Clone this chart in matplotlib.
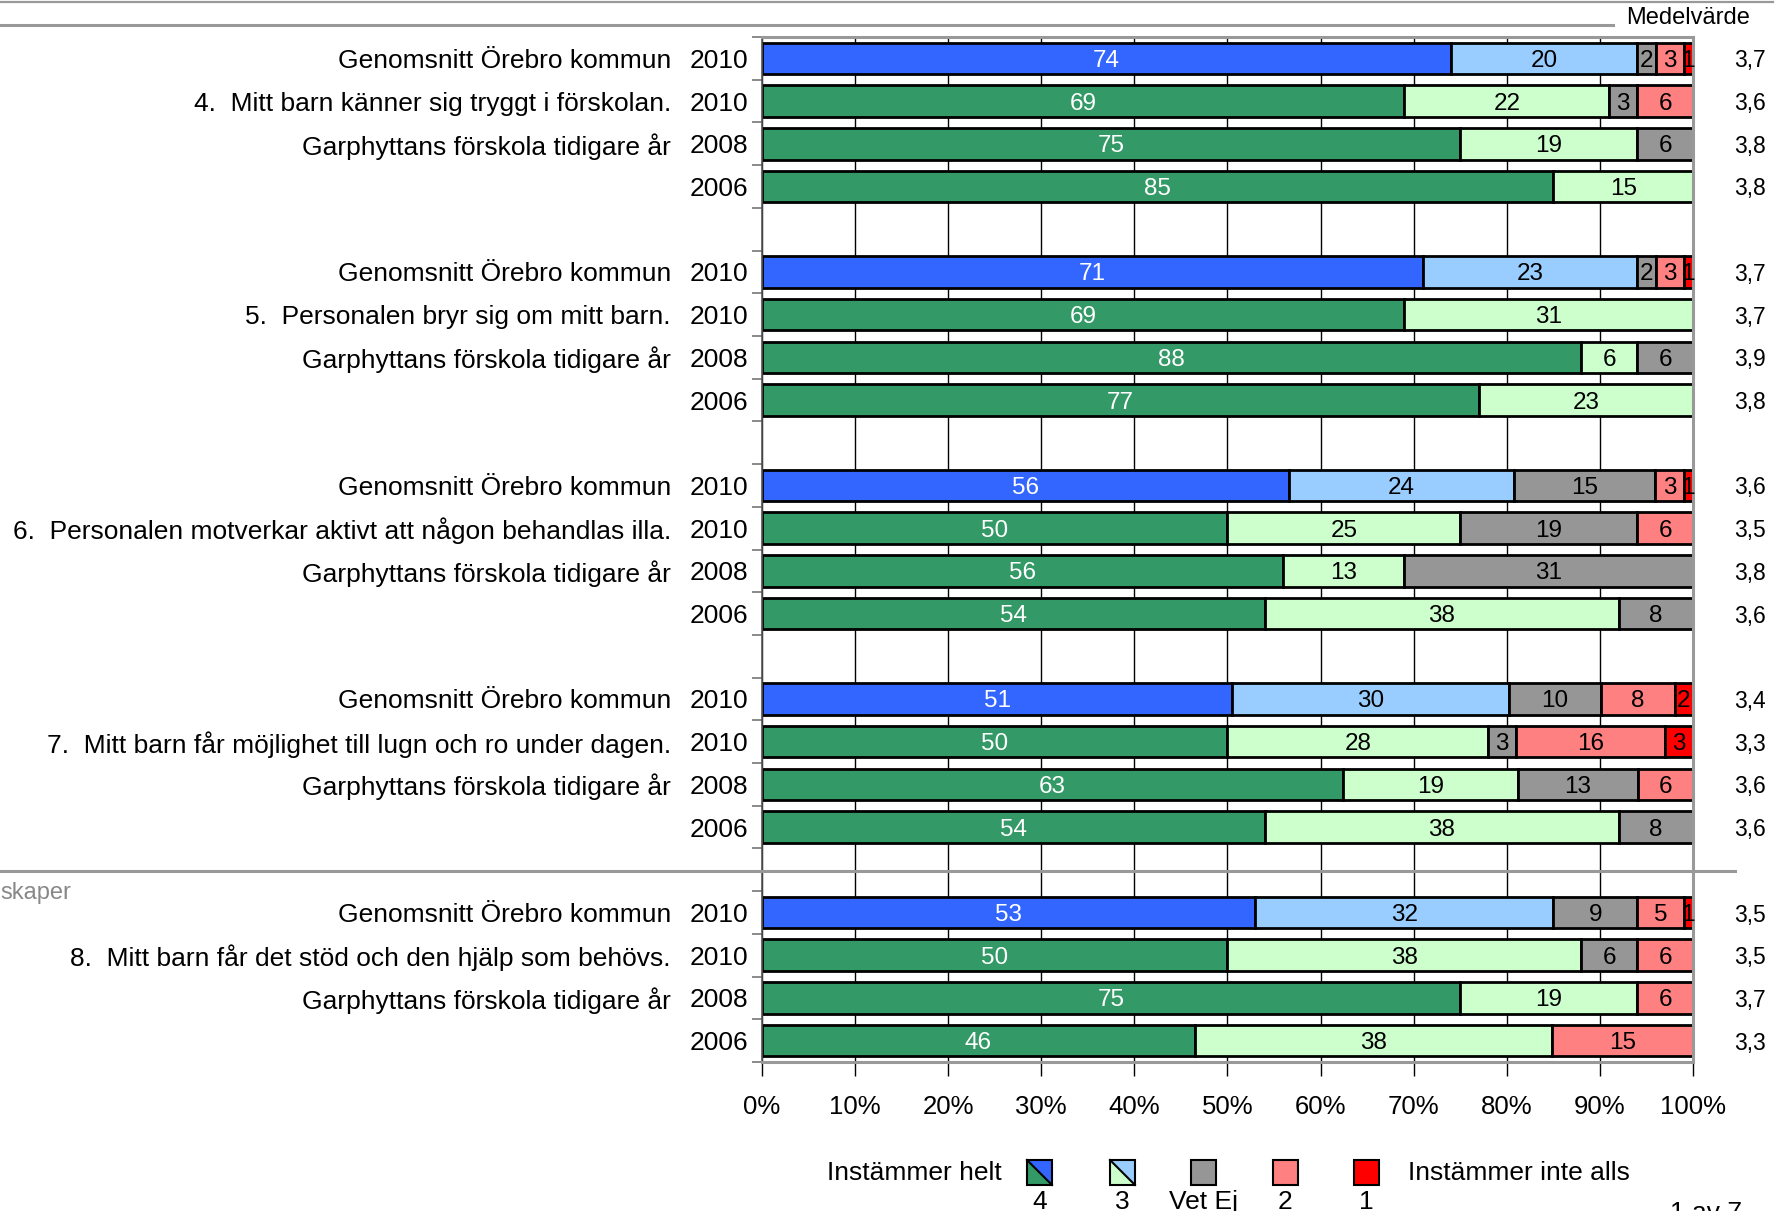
import matplotlib
import matplotlib.pyplot as plt
from matplotlib.patches import Rectangle, Polygon
from matplotlib.lines import Line2D
import numpy as np

# Non-interactive backend
matplotlib.use('Agg')
plt.rcParams['font.family'] = ['Liberation Sans', 'DejaVu Sans']

# Rows top to bottom: 5 questions x 4 rows
labels = [
    "Genomsnitt Örebro kommun", "4.  Mitt barn känner sig tryggt i förskolan.",
    "Garphyttans förskola tidigare år", "",
    "Genomsnitt Örebro kommun", "5.  Personalen bryr sig om mitt barn.",
    "Garphyttans förskola tidigare år", "",
    "Genomsnitt Örebro kommun", "6.  Personalen motverkar aktivt att någon behandlas illa.",
    "Garphyttans förskola tidigare år", "",
    "Genomsnitt Örebro kommun", "7.  Mitt barn får möjlighet till lugn och ro under dagen.",
    "Garphyttans förskola tidigare år", "",
    "Genomsnitt Örebro kommun", "8.  Mitt barn får det stöd och den hjälp som behövs.",
    "Garphyttans förskola tidigare år", "",
]
years = ["2010", "2010", "2008", "2006"] * 5

# Answer shares (%) per row: 4, 3, Vet Ej, 2, 1
v4 = [74, 69, 75, 85, 71, 69, 88, 77, 56, 50, 56, 54, 51, 50, 63, 54, 53, 50, 75, 46]
v3 = [20, 22, 19, 15, 23, 31, 6, 23, 24, 25, 13, 38, 30, 28, 19, 38, 32, 38, 19, 38]
vet = [2, 3, 6, 0, 2, 0, 6, 0, 15, 19, 31, 8, 10, 3, 13, 8, 9, 6, 0, 0]
v2 = [3, 6, 0, 0, 3, 0, 0, 0, 3, 6, 0, 0, 8, 16, 6, 0, 5, 6, 6, 15]
v1 = [1, 0, 0, 0, 1, 0, 0, 0, 1, 0, 0, 0, 2, 3, 0, 0, 1, 0, 0, 0]
means = [3.7, 3.6, 3.8, 3.8, 3.7, 3.7, 3.9, 3.8, 3.6, 3.5, 3.8, 3.6,
         3.4, 3.3, 3.6, 3.6, 3.5, 3.5, 3.7, 3.3]

BLUE, LBLUE = '#3366FF', '#99CCFF'
GREEN, LGREEN = '#339966', '#CCFFCC'
GRAY, PINK, RED = '#969696', '#FF8080', '#FF0000'

W, H = 1790, 1211
fig = plt.figure(figsize=(W / 100, H / 100), dpi=100)
ax = fig.add_axes([762 / W, 1 - 1062 / H, 931 / W, 1025 / H])

for i in range(len(labels)):
    slot = 5 * (i // 4) + i % 4
    avg_row = labels[i].startswith("Genomsnitt")
    colors = [BLUE if avg_row else GREEN, LBLUE if avg_row else LGREEN, GRAY, PINK, RED]
    vals = [v4[i], v3[i], vet[i], v2[i], v1[i]]
    total = sum(vals)
    left = 0.0
    for j, v in enumerate(vals):
        if v == 0:
            continue
        w = v / total * 100
        bar = ax.barh(slot, w, left=left, height=0.74, color=colors[j],
                      edgecolor='black', linewidth=2.0, zorder=2)[0]
        tc = 'white' if colors[j] in (BLUE, GREEN) else 'black'
        t = ax.text(left + w / 2, slot, str(v), ha='center', va='center_baseline',
                    fontsize=17.5, color=tc, zorder=3)
        t.set_clip_path(bar)
        left += w
    tr = ax.get_yaxis_transform()
    ax.text(-0.098, slot, labels[i], transform=tr, ha='right', va='center_baseline', fontsize=19)
    ax.text(-0.015, slot, years[i], transform=tr, ha='right', va='center_baseline', fontsize=19)
    ax.text(1.061, slot, f"{means[i]:.1f}".replace('.', ','), transform=tr,
            ha='center', va='center_baseline', fontsize=16.5)

ax.set_xlim(0, 100)
ax.set_ylim(23.5, -0.5)
ax.set_xticks(np.arange(0, 101, 10))
ax.set_xticklabels([f"{p}%" for p in range(0, 101, 10)], fontsize=18.5)
ax.set_yticks(np.arange(-0.5, 24, 1))
ax.set_yticklabels([])
ax.tick_params(axis='x', length=10, width=1, color='black', pad=14)
ax.tick_params(axis='y', length=7, width=1.2, color='#777777')
ax.grid(axis='x', color='black', linewidth=1, zorder=0.5)
ax.set_axisbelow(True)
for side in ('top', 'right', 'bottom'):
    ax.spines[side].set_color('#999999')
    ax.spines[side].set_linewidth(2.2)
ax.spines['left'].set_color('#555555')
ax.spines['left'].set_linewidth(1.2)

# header lines and section separator
fig.add_artist(Line2D([0, 1773 / W], [1 - 2 / H] * 2, color='#999999', lw=1.6))
fig.add_artist(Line2D([0, 1613 / W], [1 - 25 / H] * 2, color='#999999', lw=2.2))
fig.add_artist(Line2D([0, 1735 / W], [1 - 871 / H] * 2, color='#999999', lw=2.2))
fig.text(1688 / W, 1 - 18 / H, "Medelvärde", ha='center', va='center', fontsize=17)
fig.text(0, 1 - 893 / H, "skaper", ha='left', va='center', fontsize=17, color='#888888')
fig.text(1670 / W, 1 - 1201 / H, "1 av 7", ha='left', va='top', fontsize=19)

# legend
sw_x = [1027, 1110, 1191, 1273, 1354]
sw_names = ["4", "3", "Vet Ej", "2", "1"]
sw_w, sy0, sy1 = 25, 1160, 1185
for k, x0 in enumerate(sw_x):
    x1 = x0 + sw_w
    if k < 2:
        lo, hi = (GREEN, BLUE) if k == 0 else (LGREEN, LBLUE)
        fig.add_artist(Polygon([(x0 / W, 1 - sy0 / H), (x0 / W, 1 - sy1 / H), (x1 / W, 1 - sy1 / H)],
                               closed=True, facecolor=lo, edgecolor='none', transform=fig.transFigure))
        fig.add_artist(Polygon([(x0 / W, 1 - sy0 / H), (x1 / W, 1 - sy0 / H), (x1 / W, 1 - sy1 / H)],
                               closed=True, facecolor=hi, edgecolor='none', transform=fig.transFigure))
        fig.add_artist(Line2D([x0 / W, x1 / W], [1 - sy0 / H, 1 - sy1 / H], color='black', lw=1.5))
        fc = 'none'
    else:
        fc = [GRAY, PINK, RED][k - 2]
    fig.add_artist(Rectangle((x0 / W, 1 - sy1 / H), sw_w / W, (sy1 - sy0) / H, facecolor=fc,
                             edgecolor='black', lw=1.5, transform=fig.transFigure))
    fig.text((x0 + sw_w / 2) / W, 1 - 1190 / H, sw_names[k], ha='center', va='top', fontsize=19)
fig.text(1002 / W, 1 - 1173 / H, "Instämmer helt", ha='right', va='center', fontsize=19)
fig.text(1408 / W, 1 - 1173 / H, "Instämmer inte alls", ha='left', va='center', fontsize=19)

fig.savefig('out.png', dpi=100)
plt.close(fig)
